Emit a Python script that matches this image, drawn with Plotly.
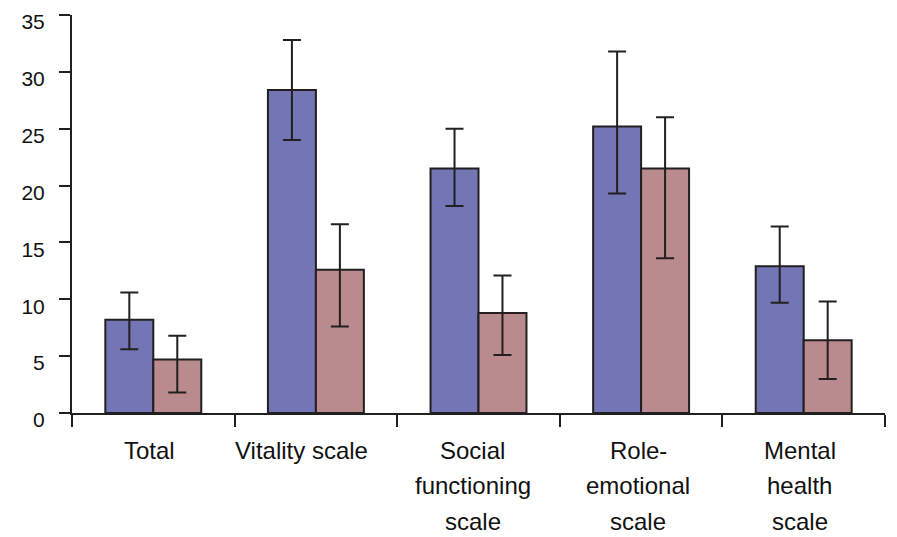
import plotly.graph_objects as go

categories = ["Total", "Vitality scale", "Social functioning scale", "Role-emotional scale", "Mental health scale"]
label_lines = [["Total"], ["Vitality scale"], ["Social", "functioning", "scale"], ["Role-", "emotional", "scale"], ["Mental", "health", "scale"]]

blue_vals = [8.2, 28.4, 21.5, 25.2, 12.9]
blue_hi = [10.6, 32.8, 25.0, 31.8, 16.4]
blue_lo = [5.6, 24.0, 18.2, 19.3, 9.7]

pink_vals = [4.7, 12.6, 8.8, 21.5, 6.4]
pink_hi = [6.8, 16.6, 12.1, 26.0, 9.8]
pink_lo = [1.8, 7.6, 5.1, 13.6, 3.0]

y_ticks = [0, 5, 10, 15, 20, 25, 30, 35]

dark = "#231f20"
label_xshift = [-4, -14, -6, -3, -4]

def err(vals, hi, lo):
    return dict(type="data", symmetric=False,
                array=[h - v for v, h in zip(vals, hi)],
                arrayminus=[v - l for v, l in zip(vals, lo)],
                color=dark, thickness=2, width=9)

fig = go.Figure()
fig.add_trace(go.Bar(x=categories, y=blue_vals, marker=dict(color="#7375b5", line=dict(color=dark, width=2)),
                     error_y=err(blue_vals, blue_hi, blue_lo), showlegend=False))
fig.add_trace(go.Bar(x=categories, y=pink_vals, marker=dict(color="#b98b8e", line=dict(color=dark, width=2)),
                     error_y=err(pink_vals, pink_hi, pink_lo), showlegend=False))

annotations = []
for cat, lines, xs in zip(categories, label_lines, label_xshift):
    for i, line in enumerate(lines):
        annotations.append(dict(x=cat, xref="x", y=0, yref="paper", text=line, showarrow=False,
                                yanchor="middle", yshift=-37 - 35.5 * i, xshift=xs,
                                font=dict(family="Liberation Sans, Arial, sans-serif", size=24, color="#111")))

fig.update_layout(
    width=889, height=529,
    margin=dict(l=64, r=12, t=7, b=124, autoexpand=False),
    paper_bgcolor="white", plot_bgcolor="white",
    barmode="group", bargap=0.41, bargroupgap=0,
    font=dict(family="Liberation Sans, Arial, sans-serif", color="#111"),
    annotations=annotations,
    xaxis=dict(showline=True, linecolor=dark, linewidth=2, ticks="outside", tickson="boundaries",
               ticklen=12, tickwidth=2, tickcolor=dark, showticklabels=False, showgrid=False, automargin=False),
    yaxis=dict(range=[0, 35], tickvals=y_ticks, showline=True, linecolor=dark, linewidth=2,
               ticks="outside", ticklen=11, tickwidth=2, tickcolor=dark, showgrid=False, zeroline=False,
               ticklabelstandoff=10, ticklabelshift=7, ticklabeloverflow="allow",
               tickfont=dict(size=21, color="#111"), automargin=False),
)

fig.write_html("out.html")
